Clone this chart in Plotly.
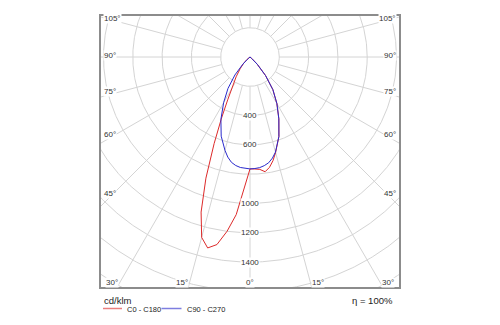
import numpy as np
import plotly.graph_objects as go

# ---- data (cd/klm) ----
gamma_c0 = [0, 2.5, 5, 7.5, 10, 12.5, 15, 20, 25, 30, 35, 40, 45, 50, 55, 60, 90]
i_c0 = [764, 765, 770, 790, 765, 725, 675, 577, 466, 367, 272, 165, 70, 15, 0, 0, 0]

gamma_c180 = [0, 2.5, 5, 7.5, 10, 12.5, 15, 17.5, 20, 22.5, 25, 27.5, 30, 35, 40, 45, 50, 55, 60, 90]
i_c180 = [764, 900, 1080, 1200, 1300, 1335, 1275, 1110, 880, 640, 460, 330, 255, 165, 105, 62, 28, 6, 0, 0]

gamma_c90 = [0, 2.5, 5, 7.5, 10, 12.5, 15, 20, 25, 30, 35, 40, 45, 50, 55, 60, 90]
i_c90 = [764, 762, 758, 748, 733, 707, 672, 577, 466, 367, 272, 165, 70, 15, 0, 0, 0]
i_c270 = [764, 762, 757, 747, 730, 700, 660, 575, 470, 360, 262, 160, 68, 15, 0, 0, 0]

grid_radii = [200, 400, 600, 800, 1000, 1200, 1400, 1600, 1800, 2000]
radial_labels = [400, 600, 1000, 1200, 1400]
spoke_angles = list(range(0, 360, 15))
side_labels = [45, 60, 75, 90, 105]
bottom_labels = [0, 15, 30]

series_names = ["C0 - C180", "C90 - C270"]
series_colors = ["#dd2a2a", "#2a2acc"]

# ---- layout geometry ----
W, H = 500, 325
L, R, T, B = 101, 399, 16, 287      # plot area in px
CX, CY = 250, 57                    # pole position in px
PX_PER_200 = 29.3
K = 200 / PX_PER_200                # units per px

xr = [(L - CX) * K, (R - CX) * K]
yr = [-(B - CY) * K, (CY - T) * K]

def px2paper(px, py):
    return (px - L) / (R - L), (B - py) / (B - T)

def half_plane(gam, inten, sign):
    g = np.radians(np.array(gam, dtype=float))
    r = np.array(inten, dtype=float)
    return sign * r * np.sin(g), -r * np.cos(g)

fig = go.Figure()

# grid circles
t = np.linspace(0, 2 * np.pi, 721)
gx, gy = [], []
for r in grid_radii:
    gx += list(r * np.cos(t)) + [None]
    gy += list(r * np.sin(t)) + [None]
# spokes
for a in spoke_angles:
    ar = np.radians(a)
    gx += [grid_radii[0] * np.sin(ar), 4000 * np.sin(ar), None]
    gy += [-grid_radii[0] * np.cos(ar), -4000 * np.cos(ar), None]
fig.add_trace(go.Scatter(x=gx, y=gy, mode="lines", line=dict(color="#d4d4d4", width=1),
                         hoverinfo="skip", showlegend=False))

# curves
lx, ly = half_plane(gamma_c180, i_c180, -1)
rx, ry = half_plane(gamma_c0, i_c0, 1)
fig.add_trace(go.Scatter(x=list(lx[::-1]) + list(rx), y=list(ly[::-1]) + list(ry),
                         mode="lines", name=series_names[0],
                         line=dict(color=series_colors[0], width=1), showlegend=False))
lx, ly = half_plane(gamma_c90, i_c270, -1)
rx, ry = half_plane(gamma_c90, i_c90, 1)
fig.add_trace(go.Scatter(x=list(lx[::-1]) + list(rx), y=list(ly[::-1]) + list(ry),
                         mode="lines", name=series_names[1],
                         line=dict(color=series_colors[1], width=1), showlegend=False))

FONT = "Liberation Sans"
LBL = dict(family=FONT, size=8, color="#333333")
ann = []
# radial labels
for r in radial_labels:
    ann.append(dict(x=0, y=-r, xref="x", yref="y", text=str(r), showarrow=False,
                    font=LBL, bgcolor="white",
                    borderpad=0, xanchor="center", yanchor="middle"))
# side angle labels
h_px = 138
for a in side_labels:
    ypx = CY + h_px / np.tan(np.radians(a)) - 2
    for side in (-1, 1):
        xpx = 103 if side < 0 else 397
        ann.append(dict(x=(xpx - CX) * K, y=(CY - ypx) * K, xref="x", yref="y",
                        text=f"{a}°", showarrow=False,
                        font=LBL, bgcolor="white",
                        borderpad=0, xanchor="left" if side < 0 else "right", yanchor="middle"))
# bottom angle labels
ylab = 282
for a in bottom_labels:
    for side in ((-1, 1) if a else (1,)):
        off = (ylab - CY) * np.tan(np.radians(a)) + (8 if a else 0)
        xpx = CX + side * off
        ann.append(dict(x=(xpx - CX) * K, y=(CY - ylab) * K, xref="x", yref="y",
                        text=f"{a}°", showarrow=False,
                        font=LBL, bgcolor="white",
                        borderpad=0, xanchor="center", yanchor="middle"))

# unit / efficiency
px_, py_ = px2paper(102, 300.5)
ann.append(dict(x=px_, y=py_, xref="paper", yref="paper", text="cd/klm", showarrow=False,
                font=dict(family=FONT, size=9.5, color="#222"), xanchor="left", yanchor="middle"))
px_, py_ = px2paper(395, 300)
ann.append(dict(x=px_, y=py_, xref="paper", yref="paper", text="η = 100%", showarrow=False,
                font=dict(family=FONT, size=9.5, color="#222"), xanchor="right", yanchor="middle"))

# manual legend
shapes = []
leg = [(103, 122, 124.5), (161.5, 181.5, 184.5)]
for (x0, x1, xt), name, col in zip(leg, series_names, series_colors):
    a0, b0 = px2paper(x0, 308.5)
    a1, _ = px2paper(x1, 308.5)
    shapes.append(dict(type="line", xref="paper", yref="paper", x0=a0, x1=a1, y0=b0, y1=b0,
                       line=dict(color=col, width=1.5), opacity=0.6))
    at, bt = px2paper(xt, 309)
    ann.append(dict(x=at, y=bt, xref="paper", yref="paper", text=name, showarrow=False,
                    font=dict(family=FONT, size=7.5, color="#222"), xanchor="left", yanchor="middle"))

axis_common = dict(showgrid=False, zeroline=False, showticklabels=False, ticks="",
                   showline=True, mirror=True, linecolor="#8c8c8c", linewidth=1.5,
                   fixedrange=True)
fig.update_layout(
    width=W, height=H,
    margin=dict(l=L, r=W - R, t=T, b=H - B),
    paper_bgcolor="white", plot_bgcolor="white",
    xaxis=dict(range=xr, **axis_common),
    yaxis=dict(range=yr, **axis_common),
    annotations=ann, shapes=shapes, showlegend=False,
)
fig.write_html("out.html")
